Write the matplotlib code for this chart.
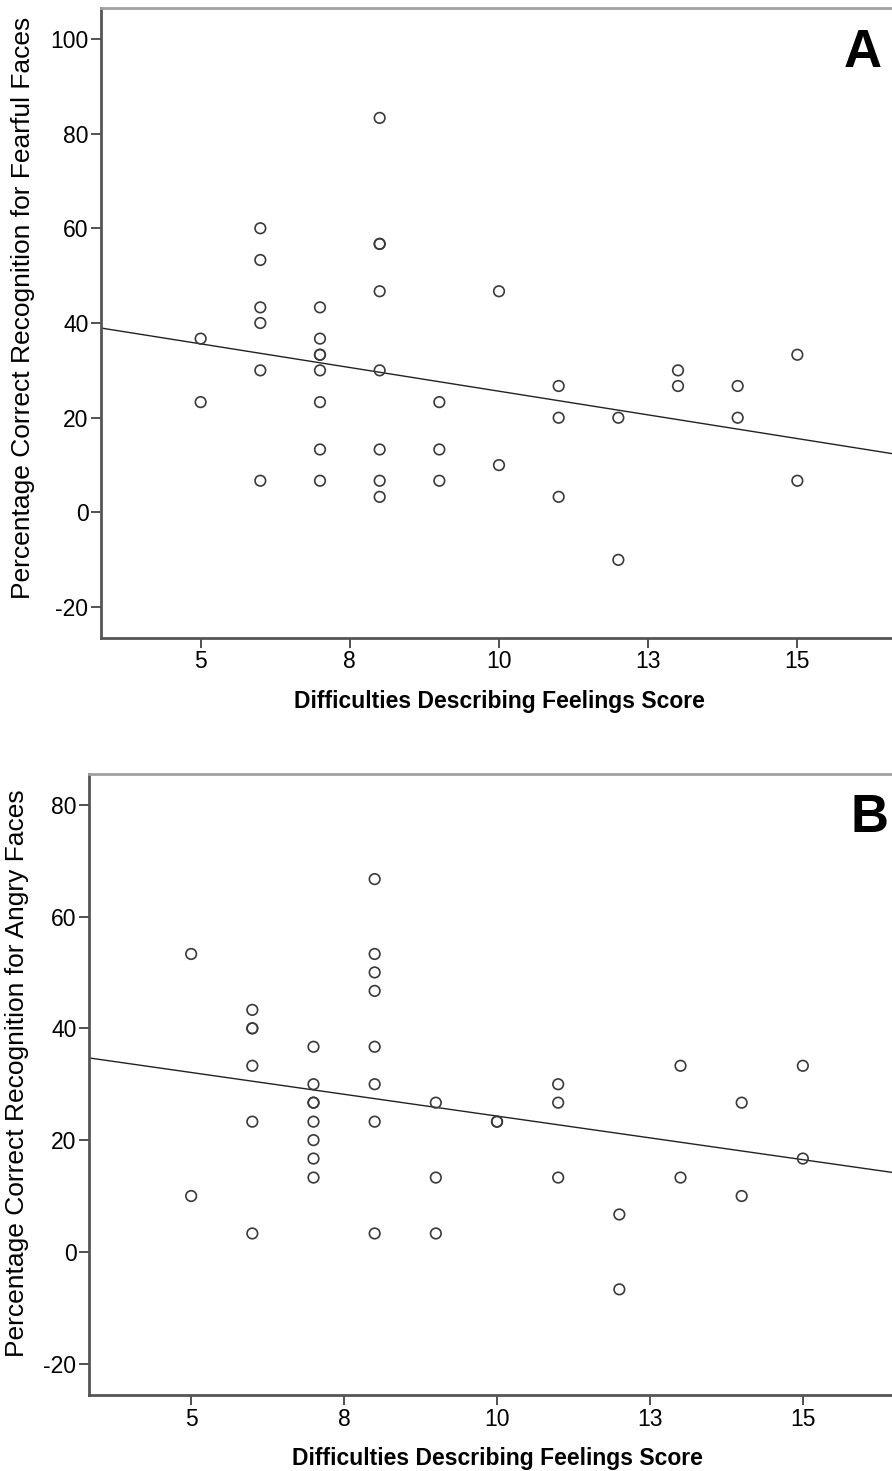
import numpy as np
import matplotlib
matplotlib.use("Agg")
import matplotlib.pyplot as plt

plt.rcParams['font.family'] = ['Liberation Sans', 'DejaVu Sans']
plt.rcParams['axes.unicode_minus'] = False

# --- data ---
# panel A: fearful faces
fear_x = [5, 5,
          6, 6, 6, 6, 6, 6,
          7, 7, 7, 7, 7, 7, 7, 7,
          8, 8, 8, 8, 8, 8, 8, 8,
          9, 9, 9,
          10, 10,
          11, 11, 11,
          12, 12,
          13, 13,
          14, 14,
          15, 15]
fear_y = [36.7, 23.3,
          60, 53.3, 43.3, 40, 30, 6.7,
          43.3, 36.7, 33.3, 33.3, 30, 23.3, 13.3, 6.7,
          83.3, 56.7, 56.7, 46.7, 30, 13.3, 6.7, 3.3,
          23.3, 13.3, 6.7,
          46.7, 10,
          26.7, 20, 3.3,
          20, -10,
          30, 26.7,
          26.7, 20,
          33.3, 6.7]
fear_fit = [45.6, -2.0]   # intercept, slope

# panel B: angry faces
angry_x = [5, 5,
           6, 6, 6, 6, 6, 6,
           7, 7, 7, 7, 7, 7, 7, 7,
           8, 8, 8, 8, 8, 8, 8, 8,
           9, 9, 9,
           10, 10,
           11, 11, 11,
           12, 12,
           13, 13,
           14, 14,
           15, 15]
angry_y = [53.3, 10,
           43.3, 40, 40, 33.3, 23.3, 3.3,
           36.7, 30, 26.7, 26.7, 23.3, 20, 16.7, 13.3,
           66.7, 53.3, 50, 46.7, 36.7, 30, 23.3, 3.3,
           26.7, 13.3, 3.3,
           23.3, 23.3,
           30, 26.7, 13.3,
           6.7, -6.7,
           33.3, 13.3,
           26.7, 10,
           33.3, 16.7]
angry_fit = [39.9, -1.56]

x_ticks = [5, 7.5, 10, 12.5, 15]
x_ticklabels = ['5', '8', '10', '13', '15']
xlim = (3.33, 16.67)

W, H = 892, 1471
fig = plt.figure(figsize=(W / 100, H / 100), dpi=100)


def panel(box, xs, ys, fit, ylim, yticks, ylabel, ylab_pos, letter, letter_pos):
    l, t, r, b = box
    ax = fig.add_axes([l / W, 1 - b / H, (r - l) / W, (b - t) / H])
    ax.scatter(xs, ys, s=58, facecolors='none', edgecolors='#3a3a3a', linewidths=1.2, zorder=3)
    lx = np.array(xlim)
    ax.plot(lx, fit[0] + fit[1] * lx, color='#222222', lw=1.0, zorder=2)
    ax.set_xlim(*xlim)
    ax.set_ylim(*ylim)
    ax.set_xticks(x_ticks)
    ax.set_xticklabels(x_ticklabels)
    ax.set_yticks(yticks)
    ax.tick_params(direction='out', length=7, width=1.2, labelsize=16.5, colors='#333333', labelcolor='black', pad=2)
    for side in ['left', 'bottom']:
        ax.spines[side].set_color('#555555')
        ax.spines[side].set_linewidth(2)
    ax.spines['top'].set_color('#a0a0a0')
    ax.spines['top'].set_linewidth(2)
    ax.spines['right'].set_visible(False)
    ax.set_xlabel('Difficulties Describing Feelings Score', fontsize=16.5, fontweight='bold', labelpad=12)
    ax.set_ylabel(ylabel, fontsize=19)
    # label anchor (right edge, vertical centre) given in figure pixels
    ax.yaxis.set_label_coords((ylab_pos[0] - l) / (r - l), (b - ylab_pos[1]) / (b - t))
    fig.text(letter_pos[0] / W, 1 - letter_pos[1] / H, letter, fontsize=38, fontweight='bold',
             ha='right', va='baseline')
    return ax


panel((101, 8, 897, 638), fear_x, fear_y, fear_fit, (-26.5, 106.5),
      [-20, 0, 20, 40, 60, 80, 100],
      'Percentage Correct Recognition for Fearful Faces', (35, 308), 'A', (882, 67))
panel((89, 774, 905, 1395), angry_x, angry_y, angry_fit, (-25.6, 85.5),
      [-20, 0, 20, 40, 60, 80],
      'Percentage Correct Recognition for Angry Faces', (29, 1073), 'B', (888, 832))

fig.savefig('out.png', dpi=100)
